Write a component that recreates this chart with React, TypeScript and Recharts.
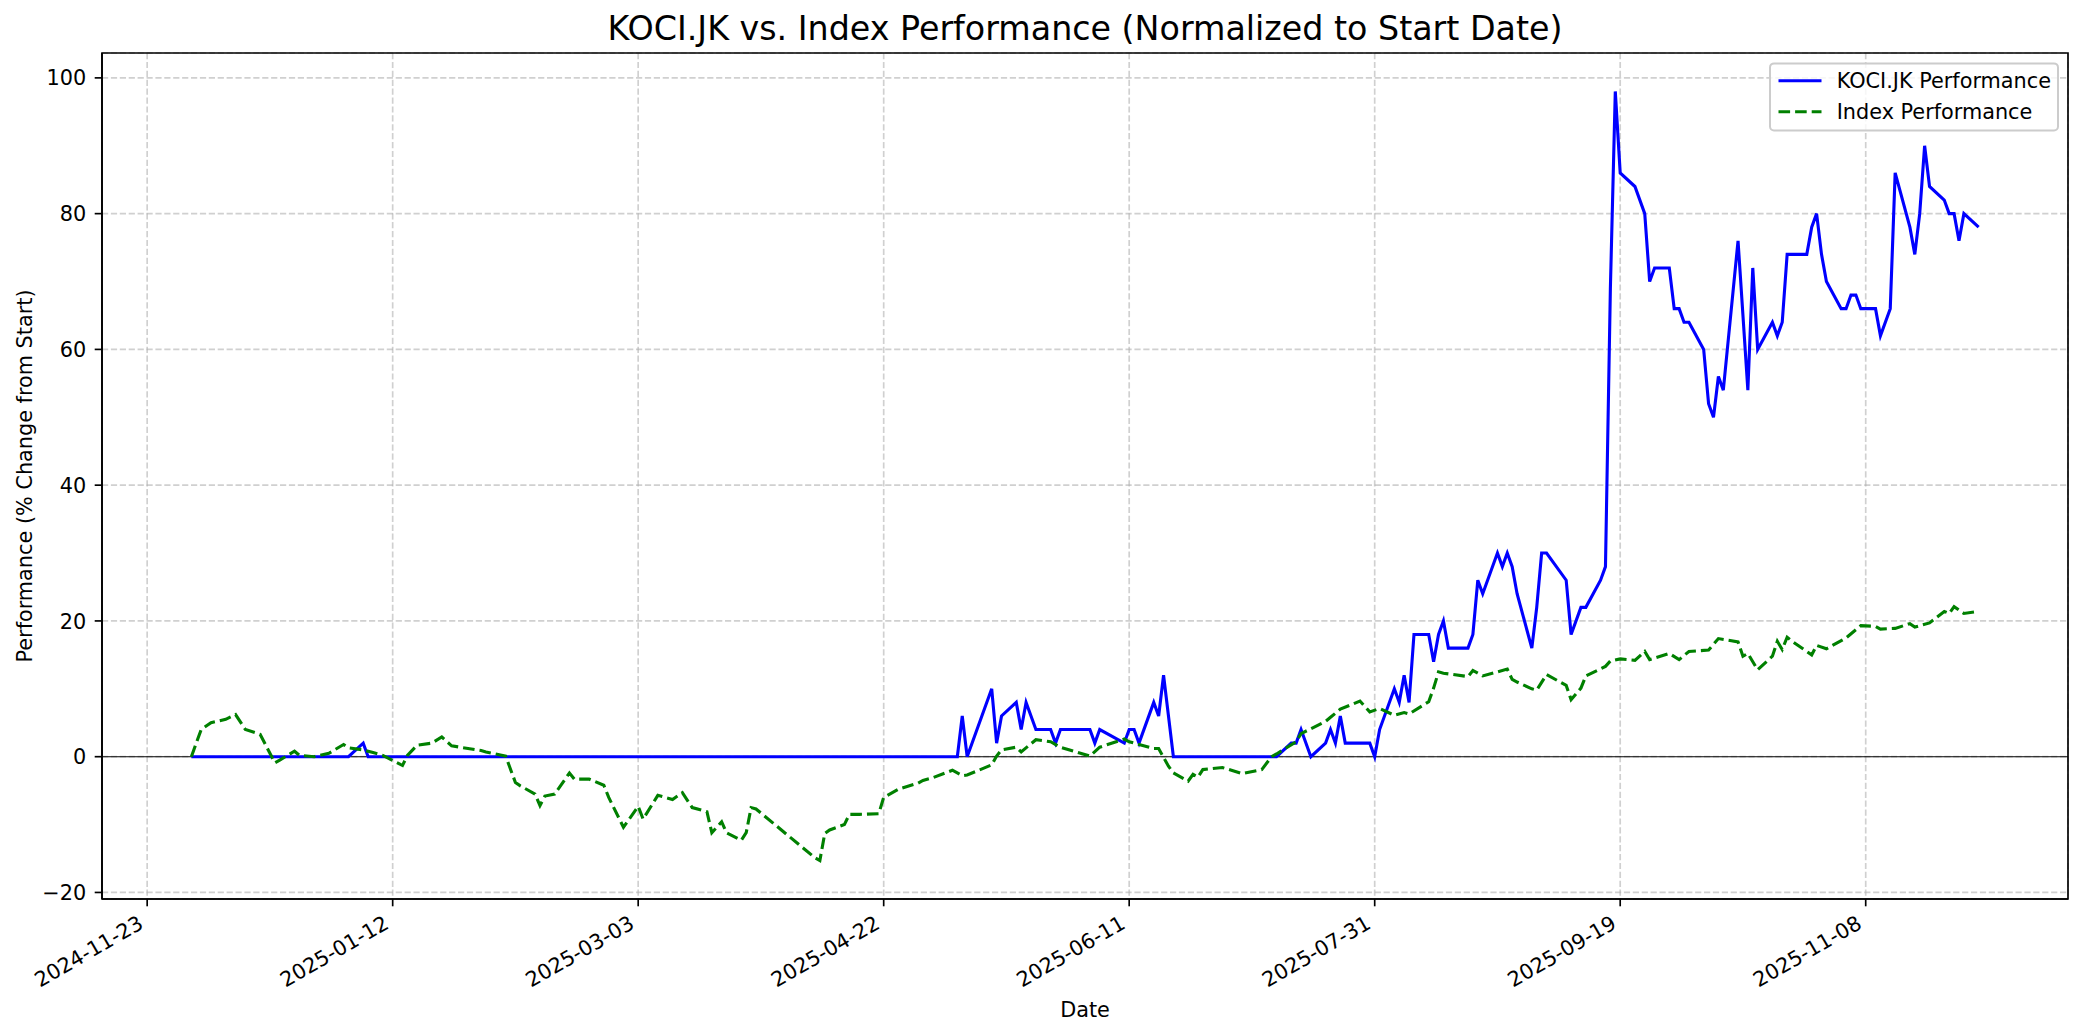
import React from "react";
import {
  CartesianGrid,
  Line,
  LineChart,
  ReferenceArea,
  ReferenceLine,
  XAxis,
  YAxis,
} from "recharts";

const W = 2084;
const H = 1035;
const FONT = '"DejaVu Sans", Verdana, sans-serif';
const BLUE = "#0000ff";
const GREEN = "#008000";

// KOCI.JK, % change from 2024-12-02 (turning points)
const kociDates = [
  "2024-12-02", "2025-01-03", "2025-01-06", "2025-01-07", "2025-05-07", "2025-05-08",
  "2025-05-09", "2025-05-14", "2025-05-15", "2025-05-16", "2025-05-19", "2025-05-20",
  "2025-05-21", "2025-05-23", "2025-05-26", "2025-05-27", "2025-05-28", "2025-06-03",
  "2025-06-04", "2025-06-05", "2025-06-10", "2025-06-11", "2025-06-12", "2025-06-13",
  "2025-06-16", "2025-06-17", "2025-06-18", "2025-06-20", "2025-07-11", "2025-07-14",
  "2025-07-15", "2025-07-16", "2025-07-18", "2025-07-21", "2025-07-22", "2025-07-23",
  "2025-07-24", "2025-07-25", "2025-07-30", "2025-07-31", "2025-08-01", "2025-08-04",
  "2025-08-05", "2025-08-06", "2025-08-07", "2025-08-08", "2025-08-11", "2025-08-12",
  "2025-08-13", "2025-08-14", "2025-08-15", "2025-08-19", "2025-08-20", "2025-08-21",
  "2025-08-22", "2025-08-25", "2025-08-26", "2025-08-27", "2025-08-28", "2025-08-29",
  "2025-09-01", "2025-09-02", "2025-09-03", "2025-09-04", "2025-09-08", "2025-09-09",
  "2025-09-11", "2025-09-12", "2025-09-15", "2025-09-16", "2025-09-17", "2025-09-18",
  "2025-09-19", "2025-09-22", "2025-09-24", "2025-09-25", "2025-09-26", "2025-09-29",
  "2025-09-30", "2025-10-01", "2025-10-02", "2025-10-03", "2025-10-06", "2025-10-07",
  "2025-10-08", "2025-10-09", "2025-10-10", "2025-10-13", "2025-10-15", "2025-10-16",
  "2025-10-17", "2025-10-20", "2025-10-21", "2025-10-22", "2025-10-23", "2025-10-27",
  "2025-10-28", "2025-10-29", "2025-10-30", "2025-10-31", "2025-11-03", "2025-11-04",
  "2025-11-05", "2025-11-06", "2025-11-07", "2025-11-10", "2025-11-11", "2025-11-13",
  "2025-11-14", "2025-11-17", "2025-11-18", "2025-11-19", "2025-11-20", "2025-11-21",
  "2025-11-24", "2025-11-25", "2025-11-26", "2025-11-27", "2025-11-28", "2025-12-01",
];
const kociValues = [
  0, 0, 2, 0, 0, 6,
  0, 10, 2, 6, 8, 4,
  8, 4, 4, 2, 4, 4,
  2, 4, 2, 4, 4, 2,
  8, 6, 12, 0, 0, 2,
  2, 4, 0, 2, 4, 2,
  6, 2, 2, 0, 4, 10,
  8, 12, 8, 18, 18, 14,
  18, 20, 16, 16, 18, 26,
  24, 30, 28, 30, 28, 24,
  16, 22, 30, 30, 26, 18,
  22, 22, 26, 28, 69, 98,
  86, 84, 80, 70, 72, 72,
  66, 66, 64, 64, 60, 52,
  50, 56, 54, 76, 54, 72,
  60, 64, 62, 64, 74, 74,
  78, 80, 74, 70, 66, 66,
  68, 68, 66, 66, 62, 66,
  86, 78, 74, 80, 90, 84,
  82, 80, 80, 76, 80, 78,
];

// Index, % change from 2024-12-02
const indexDates = [
  "2024-12-02", "2024-12-04", "2024-12-06", "2024-12-09", "2024-12-11", "2024-12-13",
  "2024-12-16", "2024-12-19", "2024-12-20", "2024-12-23", "2024-12-24", "2024-12-27",
  "2024-12-30", "2025-01-02", "2025-01-03", "2025-01-06", "2025-01-08", "2025-01-10",
  "2025-01-14", "2025-01-15", "2025-01-17", "2025-01-20", "2025-01-22", "2025-01-24",
  "2025-01-30", "2025-01-31", "2025-02-04", "2025-02-06", "2025-02-07", "2025-02-10",
  "2025-02-11", "2025-02-12", "2025-02-14", "2025-02-17", "2025-02-18", "2025-02-21",
  "2025-02-24", "2025-02-25", "2025-02-28", "2025-03-03", "2025-03-04", "2025-03-07",
  "2025-03-10", "2025-03-12", "2025-03-14", "2025-03-17", "2025-03-18", "2025-03-20",
  "2025-03-21", "2025-03-24", "2025-03-25", "2025-03-26", "2025-03-27", "2025-04-08",
  "2025-04-09", "2025-04-10", "2025-04-11", "2025-04-14", "2025-04-15", "2025-04-17",
  "2025-04-21", "2025-04-22", "2025-04-25", "2025-04-29", "2025-04-30", "2025-05-02",
  "2025-05-06", "2025-05-08", "2025-05-09", "2025-05-14", "2025-05-15", "2025-05-16",
  "2025-05-19", "2025-05-20", "2025-05-23", "2025-05-26", "2025-05-28", "2025-06-03",
  "2025-06-05", "2025-06-10", "2025-06-11", "2025-06-12", "2025-06-16", "2025-06-17",
  "2025-06-19", "2025-06-20", "2025-06-23", "2025-06-24", "2025-06-25", "2025-06-26",
  "2025-06-30", "2025-07-04", "2025-07-08", "2025-07-10", "2025-07-11", "2025-07-15",
  "2025-07-16", "2025-07-21", "2025-07-22", "2025-07-24", "2025-07-28", "2025-07-30",
  "2025-08-01", "2025-08-04", "2025-08-06", "2025-08-07", "2025-08-11", "2025-08-12",
  "2025-08-13", "2025-08-14", "2025-08-19", "2025-08-20", "2025-08-22", "2025-08-27",
  "2025-08-28", "2025-08-29", "2025-09-01", "2025-09-02", "2025-09-04", "2025-09-08",
  "2025-09-09", "2025-09-11", "2025-09-12", "2025-09-16", "2025-09-17", "2025-09-19",
  "2025-09-22", "2025-09-24", "2025-09-25", "2025-09-29", "2025-10-01", "2025-10-03",
  "2025-10-07", "2025-10-09", "2025-10-13", "2025-10-14", "2025-10-15", "2025-10-17",
  "2025-10-20", "2025-10-21", "2025-10-22", "2025-10-23", "2025-10-24", "2025-10-28",
  "2025-10-29", "2025-10-31", "2025-11-04", "2025-11-07", "2025-11-10", "2025-11-11",
  "2025-11-14", "2025-11-17", "2025-11-18", "2025-11-21", "2025-11-24", "2025-11-25",
  "2025-11-26", "2025-11-28", "2025-12-01",
];
const indexValues = [
  0, 4.0, 5.0, 5.5, 6.2, 4.0,
  3.3, -0.9, -0.5, 0.8, 0.2, 0.0,
  0.5, 1.8, 1.3, 1.0, 0.6, 0.2,
  -1.3, 0.2, 1.7, 2.0, 2.9, 1.6,
  0.9, 0.7, 0.1, -3.8, -4.3, -5.5,
  -7.2, -5.8, -5.5, -2.4, -3.3, -3.3,
  -4.2, -6.0, -10.4, -7.3, -9.2, -5.7,
  -6.3, -5.3, -7.5, -8.1, -11.2, -9.6,
  -11.2, -12.3, -11.2, -7.5, -7.7, -14.9,
  -15.3, -11.3, -10.8, -10.0, -8.5, -8.5,
  -8.4, -6.0, -4.8, -3.9, -3.5, -3.1,
  -2.0, -2.8, -2.7, -1.2, 0.1, 1.0,
  1.4, 0.7, 2.5, 2.2, 1.4, 0.1,
  1.4, 2.6, 2.2, 2.0, 1.2, 1.2,
  -1.4, -2.4, -3.6, -2.6, -3.0, -1.9,
  -1.6, -2.5, -1.9, 0.0, 0.4, 2.2,
  3.4, 5.2, 5.8, 7.0, 8.2, 6.6,
  7.1, 6.1, 6.5, 6.3, 8.1, 10.1,
  12.5, 12.3, 11.8, 12.7, 11.9, 12.9,
  11.4, 11.0, 10.0, 9.8, 12.1, 10.5,
  8.4, 10.1, 11.9, 13.3, 14.1, 14.4,
  14.2, 15.5, 14.3, 15.2, 14.3, 15.5,
  15.7, 17.4, 16.9, 14.8, 15.2, 12.8,
  14.8, 17.0, 15.8, 17.6, 17.0, 15.0,
  16.4, 15.9, 17.5, 19.3, 19.2, 18.8,
  18.9, 19.6, 19.1, 19.7, 21.4, 21.1,
  22.1, 21.1, 21.4,
];

const tickDates = [
  "2024-11-23", "2025-01-12", "2025-03-03", "2025-04-22",
  "2025-06-11", "2025-07-31", "2025-09-19", "2025-11-08",
];
const yTicks = [-20, 0, 20, 40, 60, 80, 100];

const toMs = (d: string) => Date.parse(d + "T00:00:00Z");

const kociData = kociDates.map((d, i) => ({ t: toMs(d), v: kociValues[i] }));
const indexData = indexDates.map((d, i) => ({ t: toMs(d), v: indexValues[i] }));

// matplotlib-style 5% margins around the data
const allT = [...kociData, ...indexData].map((p) => p.t);
const allV = [...kociValues, ...indexValues];
const tMin = Math.min(...allT);
const tMax = Math.max(...allT);
const vMin = Math.min(...allV);
const vMax = Math.max(...allV);
const xPad = (tMax - tMin) * 0.05;
const yPad = (vMax - vMin) * 0.05;
const xDomain: [number, number] = [tMin - xPad, tMax + xPad];
const yDomain: [number, number] = [vMin - yPad, vMax + yPad];

function XTick(props: any) {
  const { x, y, payload } = props;
  const label = new Date(payload.value).toISOString().slice(0, 10);
  return (
    <text
      transform={`translate(${x - 2.5},${y + 21}) rotate(-30)`}
      textAnchor="end"
      fontSize={20.8}
      fontFamily={FONT}
      fill="#000"
    >
      {label}
    </text>
  );
}

function YTick(props: any) {
  const { x, y, payload } = props;
  const v = Number(payload.value);
  const label = v < 0 ? `\u2212${Math.abs(v)}` : `${v}`;
  return (
    <text x={x - 8.5} y={y + 7.6} textAnchor="end" fontSize={20.8} fontFamily={FONT} fill="#000">
      {label}
    </text>
  );
}

function Overlay() {
  return (
    <svg
      width={W}
      height={H}
      style={{ position: "absolute", left: 0, top: 0, pointerEvents: "none" }}
      fontFamily={FONT}
    >
      <text x={1085} y={39.5} textAnchor="middle" fontSize={33.3} fill="#000">
        KOCI.JK vs. Index Performance (Normalized to Start Date)
      </text>
      <text x={1085} y={1017} textAnchor="middle" fontSize={20.8} fill="#000">
        Date
      </text>
      <text transform="translate(31.5,476) rotate(-90)" textAnchor="middle" fontSize={20.8} fill="#000">
        Performance (% Change from Start)
      </text>

      <g>
        <rect x={1770} y={63.4} width={288} height={67} rx={4} fill="#fff" fillOpacity={0.8} stroke="#cccccc" strokeWidth={2} />
        <line x1={1778.5} y1={80.7} x2={1821.5} y2={80.7} stroke={BLUE} strokeWidth={3.1} />
        <text x={1836.7} y={88.3} fontSize={20.8} fill="#000">KOCI.JK Performance</text>
        <line x1={1778.5} y1={111.7} x2={1821.5} y2={111.7} stroke={GREEN} strokeWidth={3.1} strokeDasharray="11.6 5" />
        <text x={1836.7} y={119} fontSize={20.8} fill="#000">Index Performance</text>
      </g>
    </svg>
  );
}

export default function App(): React.ReactElement {
  return (
    <div
      style={{
        position: "absolute",
        left: 0,
        top: 0,
        width: W,
        height: H,
        background: "#fff",
        fontFamily: FONT,
      }}
    >
      <LineChart width={W} height={H} margin={{ top: 53, right: 16, bottom: 0, left: 0 }}>
        <CartesianGrid
          stroke="#b0b0b0"
          strokeOpacity={0.6}
          strokeWidth={1.67}
          strokeDasharray="6.2 2.7"
        />
        <XAxis
          dataKey="t"
          type="number"
          domain={xDomain}
          ticks={tickDates.map(toMs)}
          allowDataOverflow
          interval={0}
          height={136}
          tickSize={7.3}
          tickMargin={0}
          tick={<XTick />}
          stroke="#000"
          axisLine={{ stroke: "#000", strokeWidth: 1.67 }}
          tickLine={{ stroke: "#000", strokeWidth: 1.67 }}
        />
        <YAxis
          type="number"
          domain={yDomain}
          ticks={yTicks}
          allowDataOverflow
          interval={0}
          width={102}
          tickSize={7.3}
          tickMargin={0}
          tick={<YTick />}
          axisLine={{ stroke: "#000", strokeWidth: 1.67 }}
          tickLine={{ stroke: "#000", strokeWidth: 1.67 }}
        />
        <ReferenceLine y={0} stroke="#000" strokeWidth={1.1} />
        <Line
          data={kociData}
          dataKey="v"
          type="linear"
          stroke={BLUE}
          strokeWidth={3.1}
          dot={false}
          activeDot={false}
          isAnimationActive={false}
        />
        <Line
          data={indexData}
          dataKey="v"
          type="linear"
          stroke={GREEN}
          strokeWidth={3.1}
          strokeDasharray="11.6 5"
          dot={false}
          activeDot={false}
          isAnimationActive={false}
        />
        <ReferenceArea
          x1={xDomain[0]}
          x2={xDomain[1]}
          y1={yDomain[0]}
          y2={yDomain[1]}
          fill="none"
          fillOpacity={0}
          stroke="#000"
          strokeWidth={1.67}
        />
      </LineChart>
      <Overlay />
    </div>
  );
}
